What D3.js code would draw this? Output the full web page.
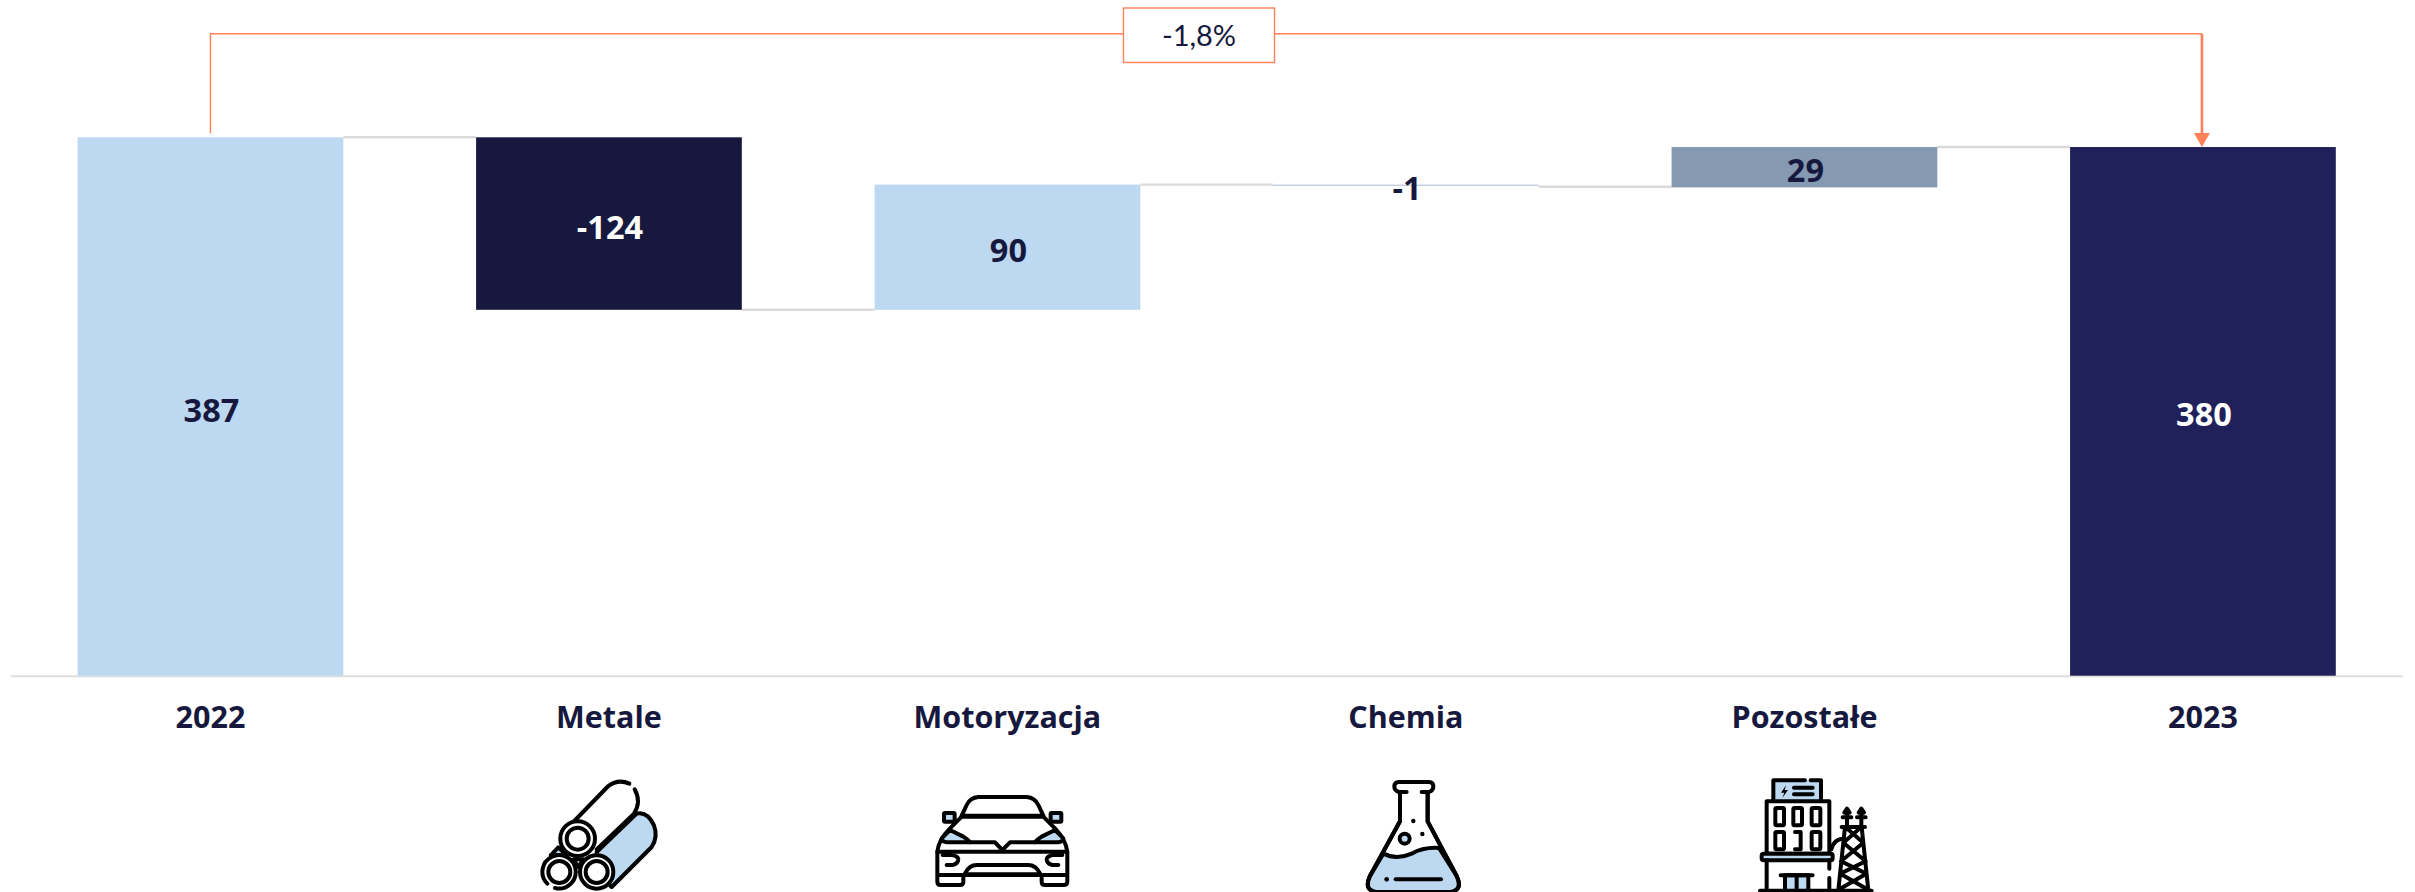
<!DOCTYPE html>
<html lang="pl"><head><meta charset="utf-8">
<script src="https://cdn.jsdelivr.net/npm/d3@7"></script>
<style>
html,body{margin:0;padding:0;background:#fff;overflow:hidden}
svg{display:block}
.ic{fill:none;stroke:#000;stroke-width:12;stroke-linecap:round;stroke-linejoin:round}
.ic .b{fill:#BDD8F1}
.ic .w{fill:#fff}
.ic .d{fill:#000;stroke:none}
.ic .n{stroke:none}
</style></head><body>
<svg id="c" width="2415" height="892"></svg>
<script>
const categories = ["2022","Metale","Motoryzacja","Chemia","Pozostałe","2023"];
const valueLabels = ["387","-124","90","-1","29","380"];
const barTop = [387,387,353,353,380,380];
const barBottom = [0,263,263,352,351,0];
const connectorLevels = [387,263,353,351.5,380];
const barColors = ["#BDD8F1","#16183D","#BDD8F1","#C5CEE0","#8599B1","#20215B"];
const labelColors = ["#16183D","#FFFFFF","#16183D","#16183D","#16183D","#FFFFFF"];
const changeLabel = "-1,8%";

const svg = d3.select("#c");
const x = d3.scaleBand().domain(categories).range([77.6,2335.8]).paddingInner(0.3332).paddingOuter(0);
const y = d3.scaleLinear().domain([0,387]).range([675.7,137.3]);
const ink = "#16183D", coral = "#FF8059";
const font = "'Open Sans', sans-serif";

// baseline
svg.append("line").attr("x1",11).attr("x2",2403).attr("y1",y(0)+0.6).attr("y2",y(0)+0.6)
  .attr("stroke","#DEDEDE").attr("stroke-width",2);

// connectors
svg.append("g").selectAll("line").data(connectorLevels).join("line")
  .attr("x1",(d,i)=>x(categories[i])+x.bandwidth())
  .attr("x2",(d,i)=>x(categories[i+1]))
  .attr("y1",d=>y(d)).attr("y2",d=>y(d))
  .attr("stroke","#DADADA").attr("stroke-width",2.4);

// bars
svg.append("g").selectAll("rect").data(categories).join("rect")
  .attr("x",d=>x(d)).attr("width",x.bandwidth())
  .attr("y",(d,i)=>y(barTop[i]))
  .attr("height",(d,i)=>y(barBottom[i])-y(barTop[i]))
  .attr("fill",(d,i)=>barColors[i]);

// value labels
svg.append("g").selectAll("text").data(valueLabels).join("text")
  .attr("x",(d,i)=>x(categories[i])+x.bandwidth()/2+1)
  .attr("y",(d,i)=>(y(barTop[i])+y(barBottom[i]))/2+15)
  .attr("text-anchor","middle")
  .attr("font-family",font).attr("font-weight",700).attr("font-size",32.5)
  .attr("fill",(d,i)=>labelColors[i]).text(d=>d);

// category axis
const ax = svg.append("g").attr("transform",`translate(0,${y(0)})`)
  .call(d3.axisBottom(x).tickSize(0).tickPadding(31));
ax.select(".domain").remove();
ax.selectAll("text").attr("font-family",font).attr("font-weight",700).attr("font-size",30.5).attr("fill",ink);

// change bracket
const x0 = x(categories[0])+x.bandwidth()/2, x1 = x(categories[5])+x.bandwidth()/2-1, yB = 33.7;
svg.append("path").attr("fill","none").attr("stroke",coral).attr("stroke-width",1.4)
  .attr("d",d3.line()([[x0,y(387)-4],[x0,yB],[x1,yB]]));
svg.append("line").attr("x1",x1).attr("x2",x1).attr("y1",yB).attr("y2",y(380)-12)
  .attr("stroke",coral).attr("stroke-width",2.6);
svg.append("path").attr("fill",coral)
  .attr("d",d3.line()([[x1-8,y(380)-14],[x1+8,y(380)-14],[x1,y(380)]])+"Z");
svg.append("rect").attr("x",1123.5).attr("y",8).attr("width",151).attr("height",54.5)
  .attr("fill","#fff").attr("stroke",coral).attr("stroke-width",1.4);
svg.append("text").attr("x",1199).attr("y",46).attr("text-anchor","middle")
  .attr("font-family","Lato, sans-serif").attr("font-size",29).attr("fill",ink).text(changeLabel);

// icons (decorative pictograms, drawn in a 3× local grid)
function icon(ox,oy,markup){
  svg.append("g").attr("class","ic").attr("transform",`translate(${ox},${oy}) scale(0.3333)`).html(markup);
}
icon(530,772,`
<path class="b" d="M62,250 L85,226 L110,250 Z"/>
<path class="b" d="M130,262 L160,262 L145,285 Z"/>
<path class="b" d="M200,240 L320,125 Q352,118 372,160 Q385,195 365,225 L245,345 L200,300 Z"/>
<path class="w n" d="M100,165 L235,42 Q265,20 298,35 L314,52 Q335,90 312,125 L200,232 Z"/>
<path d="M130,150 L235,42 Q265,20 298,35 M314,52 Q335,90 312,125 L200,232"/>
<circle class="w" cx="143" cy="200" r="52"/><circle cx="143" cy="200" r="33"/>
<circle class="w n" cx="88" cy="300" r="50"/>
<path d="M52,335 A50,50 0 1 1 75,348"/><circle cx="88" cy="300" r="33"/>
<circle class="w" cx="200" cy="300" r="50"/><circle cx="200" cy="300" r="33"/>`);

icon(930,785,`
<path class="w" d="M95,92 L110,60 Q120,38 145,36 L290,36 Q315,38 325,60 L340,92 Z"/>
<path d="M95,95 L340,95"/>
<rect class="b" x="42" y="84" width="32" height="26" rx="3"/>
<rect class="b" x="362" y="84" width="32" height="26" rx="3"/>
<path class="w" d="M95,95 L60,130 Q25,165 22,200 L22,290 Q22,300 32,300 L90,300 Q100,300 100,290 L100,270 L335,270 L335,290 Q335,300 345,300 L400,300 Q412,300 412,290 L412,200 Q408,165 375,130 L340,95 Z"/>
<path class="b" d="M60,135 L100,155 Q115,165 120,172 L50,172 Q35,170 35,160 Z"/>
<path class="b" d="M375,135 L335,155 Q320,165 315,172 L385,172 Q400,170 400,160 Z"/>
<path d="M120,172 L195,172 L217,195 L240,172 L315,172 M22,200 L412,200 M25,270 L100,270 M335,270 L410,270"/>
<path d="M105,265 Q118,240 140,240 L295,240 Q317,240 330,265 M105,268 L330,268"/>
<path d="M38,210 L65,210 Q82,212 85,222 M50,240 L68,240 Q80,238 84,228"/>
<path d="M397,210 L370,210 Q353,212 350,222 M385,240 L367,240 Q355,238 351,228"/>`);

icon(1355,772,`
<path class="w" d="M135,60 L135,148 L45,312 Q25,355 65,360 L285,360 Q325,355 305,312 L218,148 L218,60"/>
<path class="b" d="M85,245 Q125,265 170,245 Q205,225 252,228 L305,312 Q325,355 285,360 L65,360 Q25,355 45,312 Z"/>
<path d="M135,60 L135,148 L45,312 Q25,355 65,360 L285,360 Q325,355 305,312 L218,148 L218,60"/>
<path d="M155,60 L132,60 Q118,55 118,44 Q118,30 132,30 L222,30 Q235,30 235,44 Q235,55 222,60 L200,60"/>
<circle class="d" cx="175" cy="147" r="6.5"/><circle class="d" cx="202" cy="186" r="6.5"/>
<circle class="b" cx="149" cy="200" r="15"/>
<circle class="d" cx="95" cy="322" r="7"/><path d="M122,322 L258,322"/>`);

icon(1750,772,`
<rect class="b n" x="70" y="25" width="143" height="60"/>
<path d="M70,85 L70,25 L165,25 M182,25 L213,25 L213,85"/>
<path class="d" d="M108,40 L93,62 L103,62 L97,78 L114,54 L104,54 Z"/>
<path d="M132,47 L188,47 M132,67 L188,67"/>
<rect class="w" x="50" y="88" width="188" height="157"/>
<rect x="76" y="108" width="26" height="52" rx="4"/><rect x="130" y="108" width="26" height="52" rx="4"/><rect x="185" y="108" width="26" height="52" rx="4"/>
<rect x="76" y="180" width="26" height="52" rx="4"/><path d="M135,180 L152,180 L152,232 L135,232"/><rect x="185" y="180" width="26" height="52" rx="4"/>
<rect class="b" x="35" y="245" width="213" height="20" rx="6"/>
<path d="M50,265 L50,355 M238,265 L238,290 M238,318 L238,355"/>
<rect class="b" x="105" y="310" width="70" height="47"/><path d="M92,310 L188,310 M140,310 L140,355"/>
<path d="M30,356 L365,356"/>
<path d="M244,232 Q252,200 282,200"/>
<path d="M285,165 L265,355 M335,165 L355,355 M275,165 L345,165 M286,165 L340,212 L273,268 L349,305 L268,352 M334,165 L280,212 L347,268 L271,305 L352,352"/>
<path d="M291,112 L291,160 M334,112 L334,160 M278,136 L304,136 M321,136 L347,136 M283,122 L291,110 L299,122 M326,122 L334,110 L342,122"/>`);
</script>
</body></html>
